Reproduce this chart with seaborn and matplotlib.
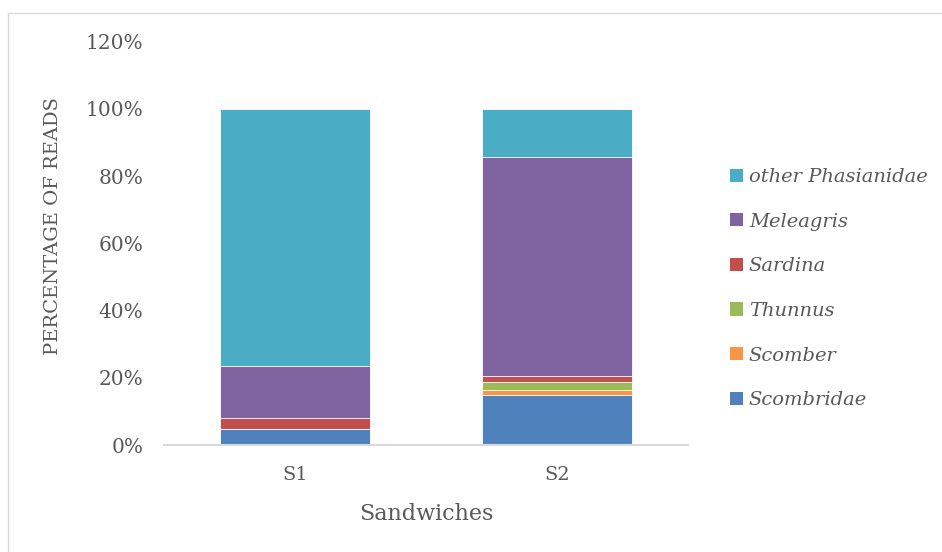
import matplotlib
matplotlib.use("Agg")
import matplotlib.pyplot as plt
from matplotlib.patches import Patch, Rectangle
import numpy as np
import pandas as pd
import seaborn as sns

# Read shares per sandwich (fractions of total reads)
samples = ["S1", "S2"]
taxa = ["Scombridae", "Scomber", "Thunnus", "Sardina", "Meleagris", "other Phasianidae"]
scombridae = [0.048, 0.149]
scomber = [0.000, 0.015]
thunnus = [0.000, 0.023]
sardina = [0.033, 0.017]
meleagris = [0.153, 0.653]
other_phasianidae = [0.766, 0.143]
colors = ["#4F81BD", "#F79646", "#9BBB59", "#C0504D", "#8064A2", "#4BACC6"]
yticks = [0, 0.2, 0.4, 0.6, 0.8, 1.0, 1.2]
ytick_labels = ["0%", "20%", "40%", "60%", "80%", "100%", "120%"]

values = np.array([scombridae, scomber, thunnus, sardina, meleagris, other_phasianidae])
cum = np.cumsum(values, axis=0)

sns.set_theme(style="white")
plt.rcParams["font.family"] = ["DejaVu Serif"]
text_color = "#595959"

fig = plt.figure(figsize=(9.42, 5.52), dpi=100)
ax = fig.add_axes([0.1741, 0.1938, 0.5563, 0.7305])

# Stacked bars: draw cumulative totals from the top layer down
for i in range(len(taxa) - 1, -1, -1):
    df = pd.DataFrame({"sample": samples, "total": cum[i]})
    sns.barplot(data=df, x="sample", y="total", color=colors[i], width=0.573,
                saturation=1, edgecolor="white", linewidth=0.6, ax=ax, errorbar=None)

ax.set_ylim(0, 1.2)
ax.set_xlim(-0.5, 1.5)
ax.set_yticks(yticks)
ax.set_yticklabels(ytick_labels)
ax.tick_params(axis="y", length=0, pad=15, labelsize=14.5, labelcolor=text_color)
ax.tick_params(axis="x", length=0, pad=15, labelsize=14, labelcolor=text_color)

for side in ["top", "right", "left"]:
    ax.spines[side].set_visible(False)
ax.spines["bottom"].set_color("#D9D9D9")
ax.spines["bottom"].set_linewidth(1.5)

ax.set_ylabel("PERCENTAGE OF READS", fontsize=14, color=text_color)
ax.yaxis.set_label_coords(-0.195, 0.543)
ax.set_xlabel("Sandwiches", fontsize=16, color=text_color)
ax.xaxis.set_label_coords(0.5, -0.145)

handles = [Patch(facecolor=colors[i], edgecolor="none") for i in range(len(taxa) - 1, -1, -1)]
labels = [taxa[i] for i in range(len(taxa) - 1, -1, -1)]
fig.legend(handles, labels, loc="upper left", bbox_to_anchor=(730 / 942, 1 - 168 / 552),
           frameon=False, prop={"style": "italic", "size": 14}, labelcolor=text_color,
           handlelength=0.67, handleheight=0.67, handletextpad=0.3, labelspacing=1.37,
           borderpad=0, borderaxespad=0)

# Light chart-area border
fig.patches.append(Rectangle((8 / 942, -0.1), 1.2, 0.1 + 1 - 13 / 552, transform=fig.transFigure,
                             fill=False, edgecolor="#D9D9D9", linewidth=1))

fig.savefig("out.png", dpi=100, facecolor="white")
